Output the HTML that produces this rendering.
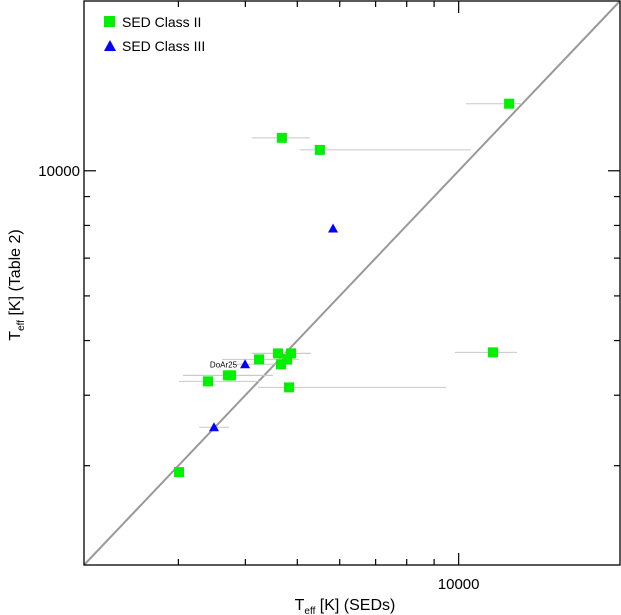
<!DOCTYPE html>
<html><head><meta charset="utf-8"><style>
html,body{margin:0;padding:0;background:#fff;}
svg{display:block;font-family:"Liberation Sans",sans-serif;}
</style></head><body>
<svg id="chart" width="621" height="615" viewBox="0 0 621 615" xmlns="http://www.w3.org/2000/svg">
<g id="plot"></g>
</svg>
<script>
const xTicksMinor = [3000,4000,5000,6000,7000,8000,9000];
const xTicksMajor = [10000];
const yTicksMinor = [3000,4000,5000,6000,7000,8000,9000];
const yTicksMajor = [10000];
const c2x = [12420,4680,5510,11590,4242,4603,4866,4786,4662,3713,3762,3407,4826,3008];
const c2y = [13150,11440,10890,4765,4630,4745,4745,4630,4538,4338,4338,4233,4130,2922];
const c2lo = [10320,4115,5058,9840,3618,4115,4115,0,3793,3060,3060,3008,4222,0];
const c2hi = [13130,5280,10540,12850,5036,5303,5303,0,4909,4504,4504,4259,9471,0];
const c3x = [3995,3496,5830];
const c3y = [4538,3509,7900];
const c3lo = [0,3279,0];
const c3hi = [0,3729,0];
const c3labels = ["DoAr25","",""];

const L=84,R=620,T=1,B=565, MIN=2000, MAX=20000;
function sx(v){return L+(Math.log10(v)-Math.log10(MIN))/(Math.log10(MAX)-Math.log10(MIN))*(R-L);}
function sy(v){return B-(Math.log10(v)-Math.log10(MIN))/(Math.log10(MAX)-Math.log10(MIN))*(B-T);}
const NS="http://www.w3.org/2000/svg";
const g=document.getElementById('plot');
function mk(tag,attrs,parent){const e=document.createElementNS(NS,tag);for(const k in attrs)e.setAttribute(k,attrs[k]);(parent||g).appendChild(e);return e;}

// diagonal
let d=mk('line',{x1:sx(MIN),y1:sy(MIN),x2:sx(MAX),y2:sy(MAX),stroke:'#999','stroke-width':2});



// error bars
for(let i=0;i<c2x.length;i++){if(!c2lo[i])continue;
 let e=mk('line',{x1:sx(c2lo[i]),x2:sx(c2hi[i]),y1:sy(c2y[i]),y2:sy(c2y[i]),stroke:'#c8c8c8','stroke-width':1});
 
 }
for(let i=0;i<c3x.length;i++){if(!c3lo[i])continue;
 let e=mk('line',{x1:sx(c3lo[i]),x2:sx(c3hi[i]),y1:sy(c3y[i]),y2:sy(c3y[i]),stroke:'#c8c8c8','stroke-width':1});
 
 }

// markers
for(let i=0;i<c2x.length;i++){
 let r=mk('rect',{x:sx(c2x[i])-5,y:sy(c2y[i])-5,width:10,height:10,fill:'#00f000'});
 
 }
for(let i=0;i<c3x.length;i++){
 const x=sx(c3x[i]),y=sy(c3y[i]);
 let p=mk('polygon',{points:`${x-5},${y+4} ${x+5},${y+4} ${x},${y-5}`,fill:'#0000ff'});
 
 
 if(c3labels[i]){let t=mk('text',{x:x-8,y:y+3,'font-size':8,'text-anchor':'end',fill:'#000'});t.textContent=c3labels[i];
  
  }
}

// frame
let f=mk('rect',{x:L,y:T,width:R-L,height:B-T,fill:'none',stroke:'#000','stroke-width':1.3});



// ticks
function tick(x1,y1,x2,y2,name){let t=mk('line',{x1,y1,x2,y2,stroke:'#000','stroke-width':1.2});
 
 }
xTicksMinor.forEach(v=>{tick(sx(v),B,sx(v),B-6,'x-minor-tick');tick(sx(v),T,sx(v),T+6,'x-minor-tick-top');});
xTicksMajor.forEach(v=>{tick(sx(v),B,sx(v),B-12,'x-major-tick');tick(sx(v),T,sx(v),T+12,'x-major-tick-top');
 let t=mk('text',{x:sx(v),y:B+24,'font-size':15,'text-anchor':'middle'});t.textContent=String(v);
 
 });
yTicksMinor.forEach(v=>{tick(L,sy(v),L+6,sy(v),'y-minor-tick');tick(R,sy(v),R-6,sy(v),'y-minor-tick-right');});
yTicksMajor.forEach(v=>{tick(L,sy(v),L+12,sy(v),'y-major-tick');tick(R,sy(v),R-12,sy(v),'y-major-tick-right');
 let t=mk('text',{x:L-4,y:sy(v)+5,'font-size':15,'text-anchor':'end'});t.textContent=String(v);
 
 });

// axis titles
let xt=mk('text',{x:345,y:610,'font-size':16,'text-anchor':'middle'});
xt.innerHTML='T<tspan font-size="10" dy="4">eff</tspan><tspan dy="-4"> [K]  (SEDs)</tspan>';


let yt=mk('text',{x:0,y:0,'font-size':16,'text-anchor':'middle',transform:'translate(20,285) rotate(-90)'});
yt.innerHTML='T<tspan font-size="10" dy="4">eff</tspan><tspan dy="-4"> [K] (Table 2)</tspan>';



// legend
let lg=mk('g',{});


let ls=mk('rect',{x:104,y:16,width:11,height:11,fill:'#00f000'},lg);


let lt=mk('text',{x:122,y:27,'font-size':14},lg);lt.textContent='SED Class II';


let lp=mk('polygon',{points:'104,51 116,51 110,40',fill:'#0000ff'},lg);


let lt2=mk('text',{x:122,y:51,'font-size':14},lg);lt2.textContent='SED Class III';


</script>
</body></html>
